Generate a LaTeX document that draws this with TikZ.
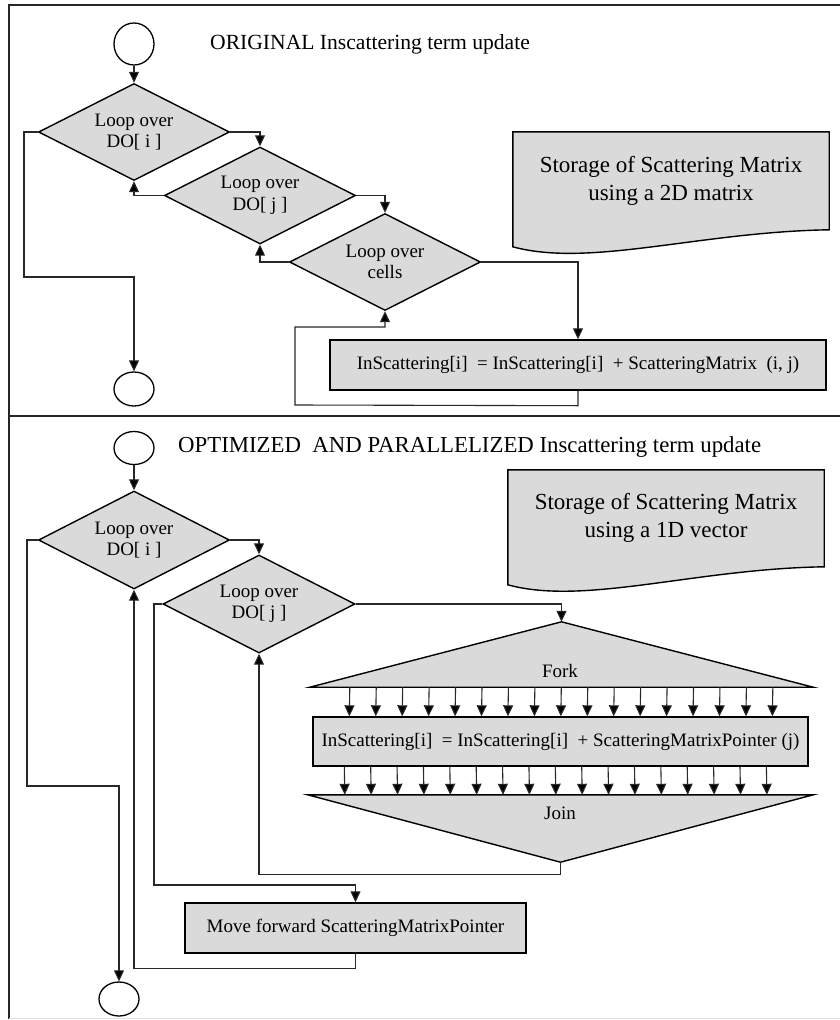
\documentclass[tikz,border=0pt]{standalone}
\usepackage{fontspec}
\setmainfont{Liberation Serif}
\usetikzlibrary{shapes.geometric,arrows.meta,calc}
\definecolor{fillg}{RGB}{218,218,218}
\definecolor{lineg}{RGB}{40,40,40}
\begin{document}
\begin{tikzpicture}[x=1pt,y=-1pt,
  shapebox/.style={draw=black, line width=1.4pt, fill=fillg},
  loopd/.style={shapebox, diamond, aspect=2, inner sep=0pt, minimum width=191pt, minimum height=97pt, align=center, font=\fontsize{19}{21.5}\selectfont},
  procbox/.style={shapebox, rectangle, inner sep=0pt, align=center, font=\fontsize{19}{23}\selectfont},
  term/.style={draw=black, line width=1.3pt, ellipse, inner sep=0pt, fill=white},
  conn/.style={draw=lineg, line width=1.1pt},
  arr/.style={conn, -{Triangle[length=11pt,width=10pt,fill=black]}},
  ghost/.style={rectangle, inner sep=0pt},
  ttl/.style={anchor=west, inner sep=0pt},
  doctext/.style={inner sep=0pt, align=center, font=\fontsize{23}{28}\selectfont},
  lbl/.style={inner sep=0pt, font=\fontsize{19}{23}\selectfont}
]
\useasboundingbox (0,0) rectangle (840,1020);
\fill[white] (0,0) rectangle (840,1020);

% frame
\draw[line width=1.5pt, black!85] (9,1019) -- (9,5) -- (840,5);
\draw[line width=1.5pt, black!85] (9,416) -- (840,416);
\draw[line width=1pt, black!12] (9,1018.5) -- (840,1018.5);

% ===== top section =====
\node[ttl, font=\fontsize{21.6}{26}\selectfont] (title1) at (210,44) {ORIGINAL Inscattering term update};

\node[term, minimum width=40pt, minimum height=42pt] (s1) at (134,44) {};
\node[loopd] (d1) at (134,132) {Loop over\\DO[ i ]};
\node[loopd] (d2) at (260,195.5) {Loop over\\DO[ j ]};
\node[loopd] (d3) at (385,262) {Loop over\\cells};
\node[procbox, minimum width=496pt, minimum height=50pt] (box1) at (578,365) {InScattering[i]\ \ = InScattering[i]\ \ + ScatteringMatrix\ \ (i, j)};
\node[term, minimum width=40pt, minimum height=34pt] (e1) at (134,389) {};

\node[ghost, minimum width=316pt, minimum height=121pt] (doc1) at (671,192.5) {};
\path[shapebox] (doc1.north west) -- (doc1.north east) -- ($(doc1.north east)+(0,98)$)
  .. controls ($(doc1.north west)+(187,100)$) and ($(doc1.north west)+(77,136)$) .. ($(doc1.north west)+(0,115)$) -- cycle;
\node[doctext] (doc1t) at ($(doc1.north)+(0,49)$) {Storage of Scattering Matrix\\using a 2D matrix};

\draw[arr] (s1.south) -- (d1.north);
\draw[arr] (d1.east) -| (d2.north);
\draw[arr] (d2.west) -| (d1.south);
\draw[arr] (d2.east) -| (d3.north);
\draw[arr] (d3.west) -| (d2.south);
\draw[arr] (d3.east) -| (box1.north);
\draw[arr] (box1.south) -- ++(0,15) -- (295,405) -- (295,327) -| (d3.south);
\draw[arr] (d1.west) -- (24,132) -- (24,277) -| (e1.north);

% ===== bottom section =====
\node[ttl, font=\fontsize{22.8}{27}\selectfont] (title2) at (178,447) {OPTIMIZED\ \ AND PARALLELIZED Inscattering term update};

\node[term, minimum width=40pt, minimum height=33pt] (s2) at (134,448) {};
\node[loopd, minimum height=98pt] (d4) at (134,540) {Loop over\\DO[ i ]};
\node[loopd, minimum width=192pt, minimum height=98pt] (d5) at (259,604) {Loop over\\DO[ j ]};

\node[ghost, minimum width=316pt, minimum height=121pt] (doc2) at (666,530.5) {};
\path[shapebox] (doc2.north west) -- (doc2.north east) -- ($(doc2.north east)+(0,97)$)
  .. controls ($(doc2.north west)+(187,99)$) and ($(doc2.north west)+(77,136)$) .. ($(doc2.north west)+(0,115)$) -- cycle;
\node[doctext] (doc2t) at ($(doc2.north)+(0,48)$) {Storage of Scattering Matrix\\using a 1D vector};

\node[ghost, minimum width=503pt, minimum height=65pt] (fork) at (561.5,654.5) {};
\path[shapebox] (fork.south west) -- (fork.north) -- (fork.south east) -- cycle;
\node[lbl] (forkt) at (560,671) {Fork};

\node[procbox, minimum width=495pt, minimum height=49pt] (box2) at (560.5,741.5) {InScattering[i]\ \ = InScattering[i]\ \ + ScatteringMatrixPointer (j)};

\node[ghost, minimum width=505pt, minimum height=67pt] (join) at (560.5,828.5) {};
\path[shapebox] (join.north west) -- (join.north east) -- (join.south) -- cycle;
\node[lbl] (joint) at (560,813) {Join};

\node[procbox, minimum width=341pt, minimum height=50pt] (move) at (355.5,928) {Move forward ScatteringMatrixPointer};
\node[term, minimum width=40pt, minimum height=34pt] (e2) at (119,999) {};

\draw[arr] (s2.south) -- (d4.north);
\draw[arr] (d4.east) -| (d5.north);
\draw[arr] (d5.east) -| (fork.north);
\foreach \k in {0,...,16}
  \draw[arr] ($(fork.south west)+(40+26.44*\k,0)$) -- ($(box2.north west)+(37+26.44*\k,0)$);
\foreach \k in {0,...,16}
  \draw[arr] ($(box2.south west)+(32+26.38*\k,0)$) -- ($(join.north west)+(37+26.38*\k,0)$);
\draw[arr] (join.south) -- ++(0,12) -| (d5.south);
\draw[arr] (d5.west) -- (154,604) -- (154,885) -| (move.north);
\draw[arr] (move.south) -- ++(0,15) -| (d4.south);
\draw[arr] (d4.west) -- (27,540) -- (27,786) -| (e2.north);
\end{tikzpicture}
\end{document}
